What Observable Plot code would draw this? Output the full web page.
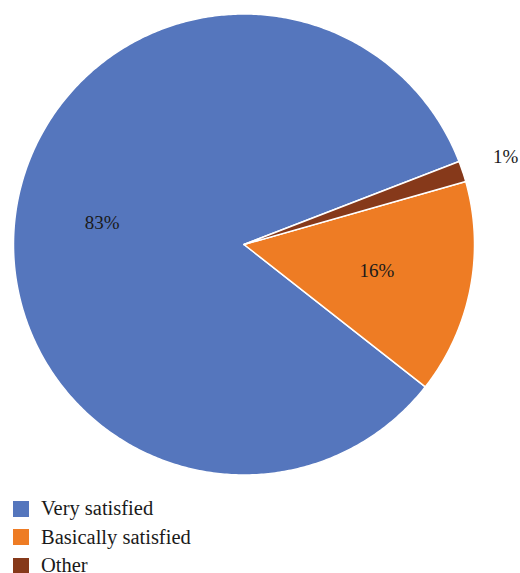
<!DOCTYPE html>
<html>
<head>
<meta charset="utf-8">
<script src="https://cdn.jsdelivr.net/npm/d3@7"></script>
<script src="https://cdn.jsdelivr.net/npm/@observablehq/plot@0.6"></script>
<style>
  html, body { margin: 0; padding: 0; background: #fff; }
  #chart svg { display: block; }
  .legend { font-family: "Liberation Serif", "DejaVu Serif", serif; font-size: 20.5px; color: #1a1a1a; margin-top: 4.5px; }
  .legend .row { display: flex; align-items: center; height: 28.5px; }
  .legend .sw { width: 16px; height: 16px; margin-left: 13px; margin-right: 12px; flex: none; }
</style>
</head>
<body>
<div id="chart"></div>
<script>
const categories = ["Very satisfied", "Basically satisfied", "Other"];
const values = [83.55, 15.0, 1.45];
const labels = ["83%", "16%", "1%"];
const colors = ["#5576BD", "#EE7C24", "#86391A"];

const labelRadius = [0.622, 0.588, 1.197];
const startDeg = 68.9;

const a0 = startDeg * Math.PI / 180;
const arcs = d3.pie().sort(null).startAngle(a0).endAngle(a0 - 2 * Math.PI)(values);

const polyPoints = [];
arcs.forEach((a, i) => {
  const cat = categories[i];
  polyPoints.push({cat, x: 0, y: 0});
  const n = Math.max(8, Math.ceil(Math.abs(a.endAngle - a.startAngle) / 0.01));
  for (let k = 0; k <= n; k++) {
    const t = a.startAngle + (a.endAngle - a.startAngle) * k / n;
    polyPoints.push({cat, x: Math.sin(t), y: Math.cos(t)});
  }
  polyPoints.push({cat, x: 0, y: 0});
});

const labelData = arcs.map((a, i) => {
  const m = (a.startAngle + a.endAngle) / 2;
  return {text: labels[i], x: Math.sin(m) * labelRadius[i], y: Math.cos(m) * labelRadius[i]};
});

const plot = Plot.plot({
  width: 520,
  height: 490,
  margin: 0,
  x: {domain: [-1, 1], range: [13, 474], axis: null},
  y: {domain: [-1, 1], range: [474.5, 13.5], axis: null},
  color: {domain: categories, range: colors},
  style: {background: "white"},
  marks: [
    Plot.line(polyPoints, {x: "x", y: "y", z: "cat", fill: "cat", stroke: "white", strokeWidth: 1.5, curve: "linear"}),
    Plot.text(labelData, {x: "x", y: "y", text: "text", fontSize: 19, fontFamily: "Liberation Serif, DejaVu Serif, serif", fill: "#1a1a1a"})
  ]
});
document.getElementById("chart").appendChild(plot);

const legend = document.createElement("div");
legend.className = "legend";
categories.forEach((c, i) => {
  const row = document.createElement("div");
  row.className = "row";
  const sw = document.createElement("span");
  sw.className = "sw";
  sw.style.background = colors[i];
  const tx = document.createElement("span");
  tx.textContent = c;
  row.appendChild(sw);
  row.appendChild(tx);
  legend.appendChild(row);
});
document.getElementById("chart").appendChild(legend);
</script>
</body>
</html>
